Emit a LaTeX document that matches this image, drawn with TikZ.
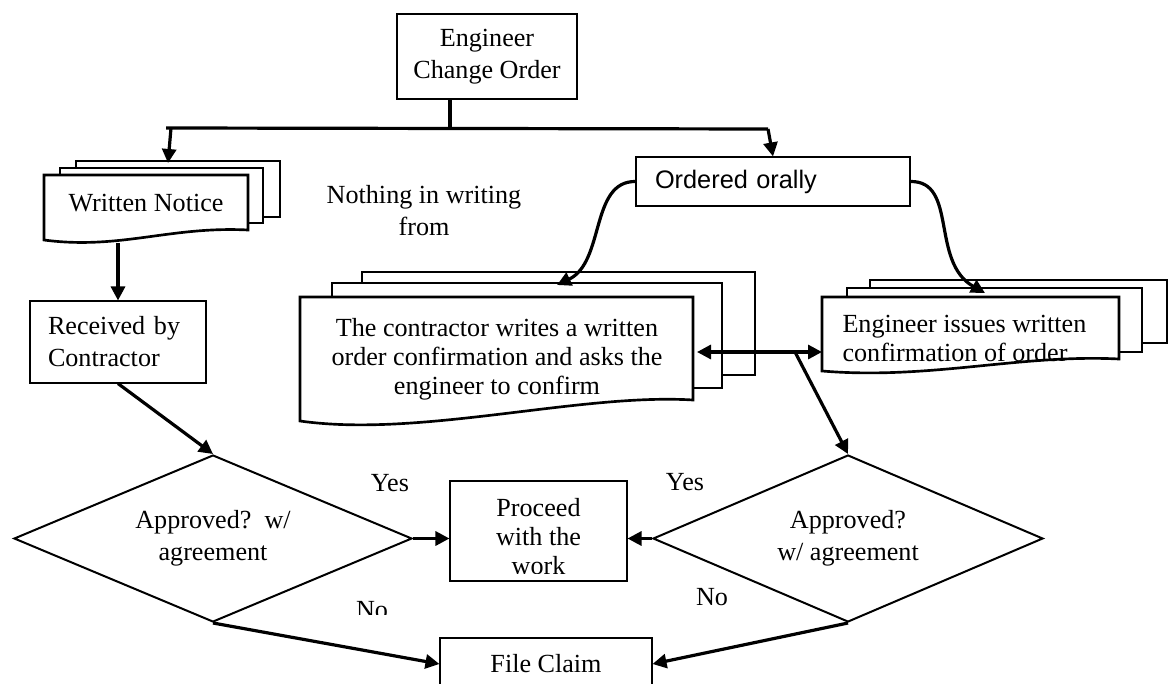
\documentclass[tikz,border=0pt]{standalone}
\usepackage{fontspec}
\setmainfont{Liberation Serif}
\newfontfamily\orallyfont{Liberation Sans}
\usetikzlibrary{shapes.geometric,arrows.meta}

\newcommand\figfont{\fontsize{19.6}{24}\selectfont}
\newcommand\tightfont{\fontsize{19.6}{21.75}\selectfont}

\tikzset{every picture/.style={line width=0.75pt},
  flowbox/.style={draw, line width=0.8pt, inner sep=0pt, align=center, font=\figfont},
  lbl/.style={inner sep=0pt, align=center, font=\figfont},
  decision/.style={diamond, draw, line width=1.5pt, inner sep=0pt, shape aspect=2.38, align=center, font=\figfont},
  pages/.style={draw, fill=white, line width=2pt, line join=miter},
  link/.style={line width=2.4pt},
  tip/.style={-{Triangle[length=10.5pt,width=10.5pt]}},
  arr/.style={link, tip}
}

\begin{document}
\begin{tikzpicture}[x=0.75pt,y=0.75pt,yscale=-1,xscale=1]
\useasboundingbox (0,0) rectangle (1173,684);

%Shape: Rectangle
\node[flowbox, minimum width=135pt, minimum height=63.75pt] (eco) at (487,56.5) {Engineer\\Change Order};

%Shape: Multidocument
\draw[pages] (76,161) rectangle (280,217);
\draw[pages] (60,168) rectangle (263,223);
\draw[pages] (44,175) -- (248,175) -- (248,230) .. controls (170,226) and (120,250) .. (44,240) -- cycle;
% Text Node
\node[lbl] (notice) at (146,203) {Written Notice};
\coordinate (noticeTop) at (168,163);
\coordinate (noticeBot) at (118,243);

%Shape: Rectangle
\node[flowbox, text width=105pt, align=left, inner xsep=13.5pt, minimum height=61.5pt] (received) at (118,342) {Received by\\Contractor};

% Text Node
\node[lbl] (nothing) at (424,211) {Nothing in writing\\from};

%Shape: Rectangle
\node[flowbox, font=\orallyfont\fontsize{19}{23}\selectfont, text width=177pt, align=left, inner xsep=14.25pt, minimum height=36.75pt] (ordered) at (773,181.5) {Ordered orally};

%Shape: Multidocument
\draw[pages] (362,272) rectangle (755,375);
\draw[pages] (332,283) rectangle (722,388);
\draw[pages] (300,297) -- (693,297) -- (693,400) .. controls (580,393) and (420,438) .. (300,421) -- cycle;
% Text Node
\node[lbl, font=\tightfont] (confirmC) at (497,359) {The contractor writes a written\\order confirmation and asks the\\engineer to confirm};
\coordinate (confirmTop) at (557,285);
\coordinate (confirmR) at (697,352);

%Shape: Multidocument
\draw[pages] (870,280) rectangle (1167,343);
\draw[pages] (847,288) rectangle (1142,352);
\draw[pages] (822,297) -- (1119,297) -- (1119,359) .. controls (1020,354) and (930,380) .. (822,371) -- cycle;
% Text Node
\node[lbl, font=\tightfont, align=left, anchor=west] (confirmE) at (842,338) {Engineer issues written\\confirmation of order};
\coordinate (engTop) at (985,293);
\coordinate (engL) at (822,352);

%Shape: Diamond
\node[decision, minimum width=298.5pt, minimum height=125.25pt] (dL) at (213,538.5) {Approved?\ \ w/\\agreement};
\node[decision, minimum width=292.5pt, minimum height=125.25pt] (dR) at (848,538.5) {Approved?\\w/ agreement};

%Shape: Rectangle
\node[flowbox, minimum width=132.75pt, minimum height=75pt] (proceed) at (538.5,531) {};
\begin{scope}
\clip (proceed.south west) ++(0,-8) rectangle (proceed.north east);
\node[lbl, font=\tightfont] (proceedTxt) at (538.5,537) {Proceed\\with the\\work};
\end{scope}
\node[flowbox, minimum width=159pt, minimum height=39pt] (claim) at (546,664) {File Claim};

% Text Node
\node[lbl] (yesL) at (390,483) {Yes};
\node[lbl] (yesR) at (685,482) {Yes};
\begin{scope}
\clip (340,590) rectangle (410,614);
\node[lbl] (noL) at (372,610.5) {No};
\end{scope}
\node[lbl] (noR) at (712,597) {No};

%Straight Lines
\coordinate (busM) at (450,128);
\coordinate (busL) at (166,128);
\coordinate (busR) at (768,129);
\coordinate (dropL) at (171,128);
\coordinate (branch) at (795,352);
\draw[link] (busM |- eco.south) -- (busM);
\draw[link] (busL) -- (busR);
\draw[arr] (dropL) -- (noticeTop);
\draw[arr] (busR) -- (ordered.north);
\draw[arr] (noticeBot) -- (received.north);
\draw[arr] (received.south) -- (dL.north);
\draw[arr] (dL.east) -- (dL.east -| proceed.west);
\draw[arr] (dR.west) -- (dR.west -| proceed.east);
\draw[arr] (dL.south) -- (claim.west);
\draw[arr] (dR.south) -- (claim.east);
\draw[link, {Triangle[length=10.5pt,width=10.5pt]}-{Triangle[length=10.5pt,width=10.5pt]}] (confirmR) -- (engL);
\draw[arr] (branch) -- (dR.north);

%Curve Lines
\draw[arr] (ordered.west) .. controls (590,181) and (605,262) .. (confirmTop);
\draw[arr] (ordered.east) .. controls (958,181) and (930,262) .. (engTop);
\end{tikzpicture}
\end{document}
